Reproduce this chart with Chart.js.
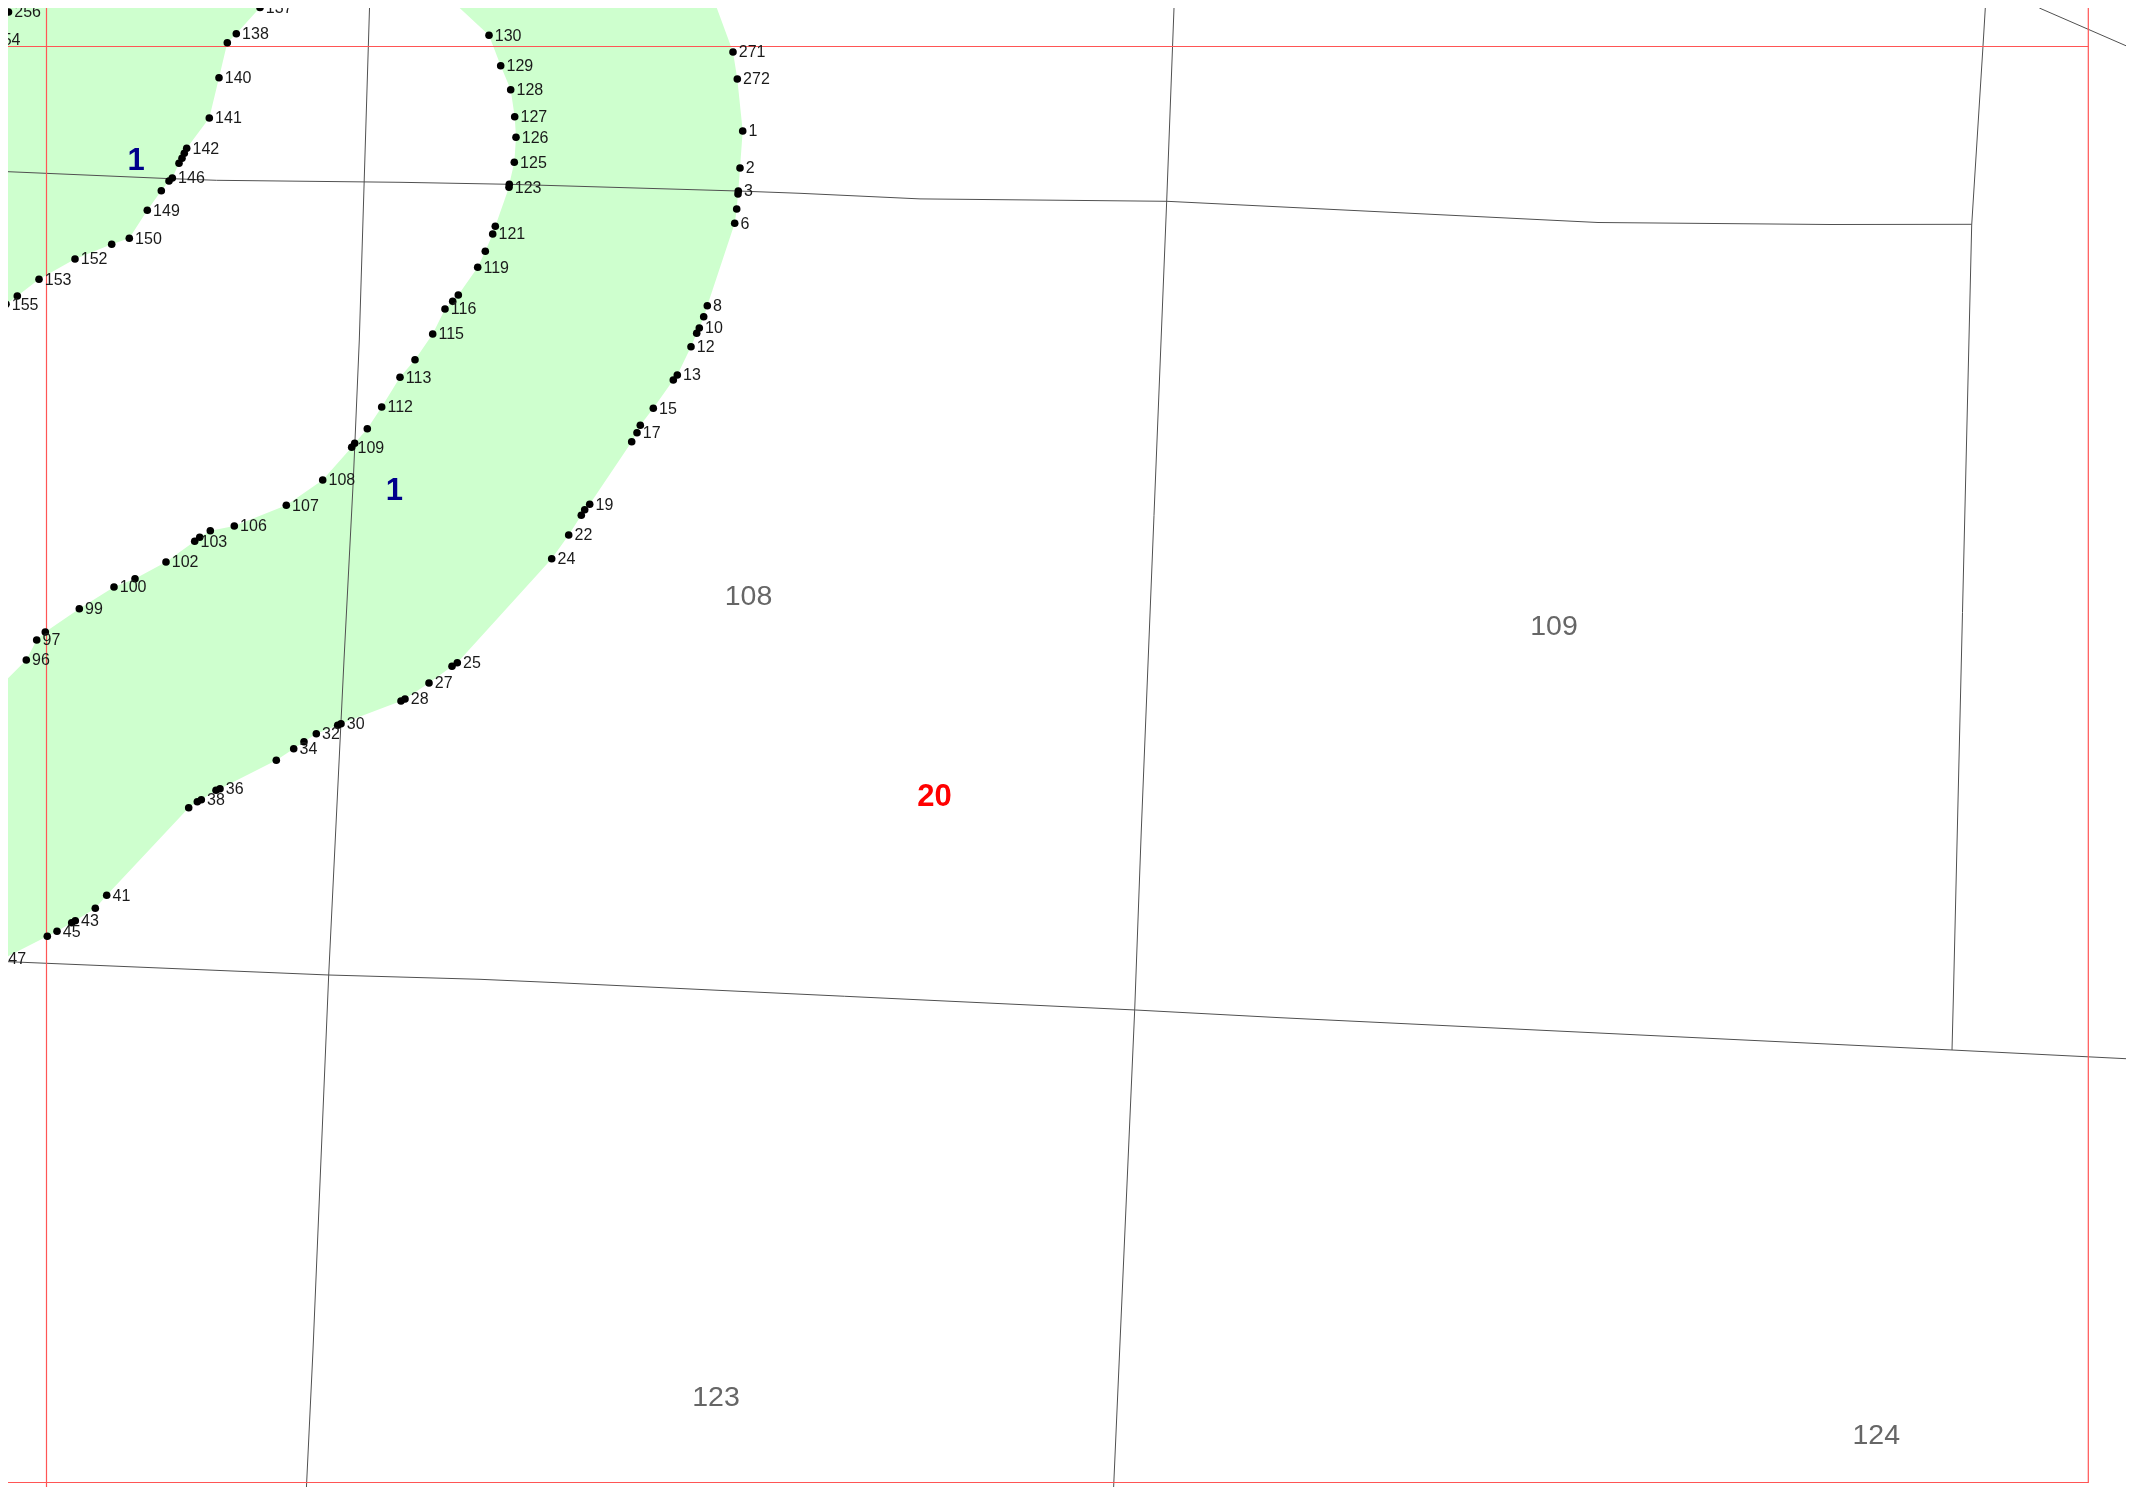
<!DOCTYPE html>
<html>
<head>
<meta charset="utf-8">
<title>Parcel map</title>
<script src="https://cdn.jsdelivr.net/npm/chart.js@4"></script>
<style>
  html, body { background: #fff; overflow: hidden; }
  body { margin: 8px 0 0 8px; }
  canvas { display: block; }
</style>
</head>
<body>
<canvas id="mapChart" width="2118" height="1479"></canvas>
<script>
// Parcel 1 boundary, in drawing order. '' = dot without number, null = corner off the sheet
const parcelNo = [
  '271','272','1','2','3','','','6','8','','10','','12','13','','15','','17','','19','','','22','24',
  '25','','27','28','','30','','32','','34','','36','','38','','','41','','43','','45','','47',
  null,null,
  '96','97','','99','100','','102','103','','','106','107','108','109','','','112','113','','115','116','','',
  '119','','121','','123','','125','126','127','128','129','130',
  null,null,
  '137','138','','140','141','142','','','','146','','','149','150','','152','153','','155',
  null,'254','256',null,null
];
const parcelX = [
  733,737.3,742.7,740,738.3,738,736.7,734.7,707.3,703.7,699.3,696.7,691,677.3,673.3,653.3,640.3,637,631.7,589.7,584.7,581.3,568.7,551.7,
  457.3,452,429,405,401,341,337.7,316.3,304,293.7,276.3,220,216,201.3,197.3,188.7,106.7,95.3,75.3,71.7,57,47.3,2.5,
  -20,-20,
  26.3,36.7,45.3,79.3,114,135,166,194.7,199.7,210.3,234.3,286.3,322.7,351.7,354.7,367.3,381.7,400,415,432.7,445,452.7,458.3,
  477.7,485.3,492.7,495.3,509,509.3,514.3,516,514.7,510.7,500.7,489,
  450,268,
  260,236.3,227.3,219,209.3,186.7,184.3,182,179,172.3,169,161.3,147.3,129.3,111.7,75,39,17.3,6,
  -20,-12,8.5,-20,706.5
];
const parcelY = [
  52,79,131,168,191,194,209,223.3,305.7,316.7,328,333.3,346.7,375,380,408.3,425.3,432.7,441.7,504.3,509.7,515.3,535,558.7,
  662.7,666.3,683,699,701,723.7,725.3,733.7,741.7,748.7,760.3,788.7,790.3,799.7,801.7,807.7,895.3,908.3,920.7,922.7,931.3,936.3,959,
  970,706,
  660,640,632,608.7,587,578.7,562,541.3,537.3,530.7,526,505.3,480,447.3,443.3,428.7,407,377.3,359.7,334,309,301.3,295,
  267.3,251.3,234,226.3,187.3,184.3,162.3,137.3,116.7,89.7,65.7,35.3,
  -1,-1,
  7.5,33.7,42.7,77.7,118,148.3,153.3,158.3,163.3,178,181,190.7,210.3,238.3,244.3,259,279.3,296,304.3,
  312,40,12,-20,-20
];

// Neighbouring parcel boundaries
const roadA = [[369.5,8],[359.3,340],[353.3,480],[344,660],[328.7,975],[313,1350],[306.3,1490]];
const roadB = [[1174,8],[1166.7,201],[1141.3,830],[1134.7,1010],[1113.5,1490]];
const roadC = [[1985.3,8],[1983,46],[1971.7,225],[1953.3,1000],[1952,1050]];
const roadD = [[8,171.7],[166.7,178.5],[216.7,180.3],[400,182.3],[510,184.3],[738,191],[800,193.3],[920,198.9],[1167,201.3],[1598,222.5],[1830,224.5],[1971.7,224.3]];
const roadE = [[8,961.7],[328.7,975],[480,979.3],[553,982.5],[1135.6,1010],[1280,1017.7],[1800,1042.7],[1952,1050],[2130,1058.9]];
const roadF = [[2039.3,8],[2130,47.5]];
const roads = [roadA, roadB, roadC, roadD, roadE, roadF];

// Sheet frame
const frameOuter = [[8,46.5],[2088.3,46.5],[2088.3,8]];
const frameLeft = [[46.5,8],[46.5,1490]];
const frameBottom = [[8,1482.5],[2088.3,1482.5],[2088.3,46.5]];
const frames = [frameOuter, frameLeft, frameBottom];

// Parcel numbers written on the map
const neighbourText = ['108','109','123','124'];
const neighbourX = [748.5,1554,716,1876.3];
const neighbourY = [597.5,627,1398,1436];
const mainText = ['20'];
const mainX = [934.5];
const mainY = [797.5];
const ownerText = ['1','1'];
const ownerX = [136,394.3];
const ownerY = [161,491.7];

const toPoints = pairs => pairs.map(p => ({ x: p[0], y: p[1] }));

const parcelOutline = parcelX.map((x, i) => ({ x, y: parcelY[i] }));
const parcelDots = parcelOutline.filter((p, i) => parcelNo[i] !== null);
const dotNumbers = parcelNo.filter(n => n !== null);

const lineDataset = (pairs, color, width, order) => ({
  data: toPoints(pairs),
  showLine: true,
  fill: false,
  borderColor: color,
  borderWidth: width,
  pointRadius: 0,
  tension: 0,
  order
});

// Writes the numbers through the chart's own scales
const mapTextPlugin = {
  id: 'mapText',
  afterDatasetsDraw(chart) {
    const { ctx, chartArea, scales } = chart;
    const px = scales.x, py = scales.y;
    const write = (texts, xs, ys, font, color, align, dx, dy) => {
      ctx.font = font;
      ctx.fillStyle = color;
      ctx.textAlign = align;
      ctx.textBaseline = 'middle';
      texts.forEach((t, i) => {
        if (t) ctx.fillText(t, px.getPixelForValue(xs[i]) + dx, py.getPixelForValue(ys[i]) + dy);
      });
    };
    ctx.save();
    ctx.beginPath();
    ctx.rect(chartArea.left, chartArea.top, chartArea.width, chartArea.height);
    ctx.clip();
    write(dotNumbers, parcelDots.map(p => p.x), parcelDots.map(p => p.y), '16px "Liberation Sans"', '#1a1a1a', 'left', 5.8, 1);
    write(neighbourText, neighbourX, neighbourY, '28.5px "Liberation Sans"', '#666666', 'center', 0, 0);
    write(mainText, mainX, mainY, 'bold 31px "Liberation Sans"', '#ff0000', 'center', 0, 0);
    write(ownerText, ownerX, ownerY, 'bold 31px "Liberation Sans"', '#00008b', 'center', 0, 0);
    ctx.restore();
  }
};

new Chart(document.getElementById('mapChart'), {
  type: 'scatter',
  plugins: [mapTextPlugin],
  data: {
    datasets: [
      {
        data: parcelOutline,
        showLine: true,
        fill: 'shape',
        backgroundColor: '#ceffce',
        borderWidth: 0,
        pointRadius: 0,
        order: 5
      },
      ...roads.map(r => lineDataset(r, '#505050', 1, 4)),
      ...frames.map(f => lineDataset(f, '#ff5555', 1.2, 3)),
      {
        data: parcelDots,
        showLine: false,
        backgroundColor: '#000000',
        borderWidth: 0,
        pointRadius: 3.8,
        clip: 0,
        order: 1
      }
    ]
  },
  options: {
    responsive: false,
    devicePixelRatio: 1,
    animation: false,
    layout: { padding: 0, autoPadding: false },
    events: [],
    plugins: {
      legend: { display: false },
      title: { display: false },
      tooltip: { enabled: false }
    },
    scales: {
      x: { type: 'linear', min: 8, max: 2126, display: false },
      y: { type: 'linear', min: 8, max: 1487, reverse: true, display: false }
    }
  }
});
</script>
</body>
</html>
